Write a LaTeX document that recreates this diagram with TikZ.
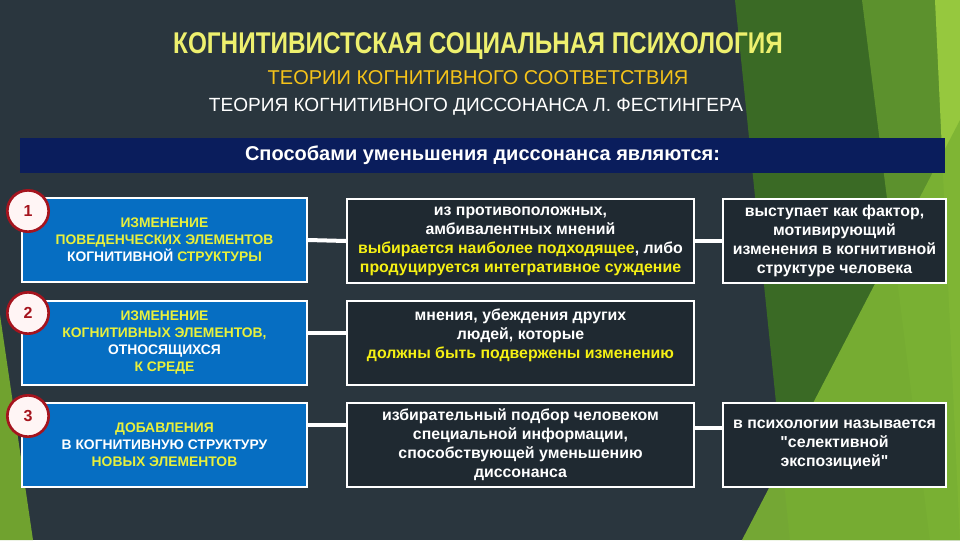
\documentclass[tikz,border=0pt]{standalone}
\usepackage{fontspec}
\usepackage{graphicx}
\setmainfont{Liberation Sans}[Ligatures=TeXOff]
\definecolor{slate}{RGB}{42,54,62}
\definecolor{navy}{RGB}{10,29,92}
\definecolor{boxblue}{RGB}{6,110,194}
\definecolor{boxdark}{RGB}{31,41,49}
\definecolor{lemon}{RGB}{232,240,60}
\definecolor{brightyellow}{RGB}{245,240,20}
\definecolor{titleyellow}{RGB}{238,240,110}
\definecolor{gold}{RGB}{245,195,25}
\definecolor{numred}{RGB}{165,20,30}
\definecolor{leafdark}{RGB}{58,106,37}
\definecolor{leafmid}{RGB}{92,145,45}
\definecolor{leaflight}{RGB}{125,180,52}
\definecolor{leafpale}{RGB}{150,200,62}
\begin{document}
\begin{tikzpicture}[x=0.75pt, y=-0.75pt]
 \tikzstyle{bluebox}=[rectangle, draw=white, line width=1.5pt, fill=boxblue, text=white, align=center, minimum width=213.75pt, minimum height=63pt, inner sep=0pt, font=\fontsize{10.4}{12.75}\selectfont\bfseries]
 \tikzstyle{darkbox}=[rectangle, draw=white, line width=1.5pt, fill=boxdark, text=white, align=center, minimum width=260.25pt, minimum height=63pt, inner sep=0pt, font=\fontsize{11.9}{14.25}\selectfont\bfseries]
 \tikzstyle{sidebox}=[darkbox, minimum width=167.25pt]
 \tikzstyle{numdisc}=[circle, draw=numred, line width=2pt, fill=white!96!red, text=numred, minimum size=31pt, inner sep=0pt, font=\fontsize{12}{12}\selectfont\bfseries]
 \tikzstyle{link}=[draw=white, line width=3pt]
 %
 \fill[slate] (0,0) rectangle (960,540);
 \fill[leafdark] (735,0) -- (960,0) -- (960,540) -- (790,540) -- cycle;
 \fill[leafmid] (862,0) -- (960,0) -- (960,540) -- (930,540) -- cycle;
 \fill[leafpale] (935,0) -- (960,0) -- (960,540) -- cycle;
 \fill[leaflight, opacity=0.9] (742,540) -- (960,120) -- (960,540) -- cycle;
 \fill[leaflight!90!black] (0,315) -- (33,540) -- (0,540) -- cycle;
 %
 \node[text=titleyellow, font=\fontsize{22.5}{22.5}\selectfont\bfseries] (title) at (478,46) {\scalebox{0.81}[1]{КОГНИТИВИСТСКАЯ СОЦИАЛЬНАЯ ПСИХОЛОГИЯ}};
 \node[text=gold, font=\fontsize{15}{15}\selectfont] (theories) at (478,78) {ТЕОРИИ КОГНИТИВНОГО СООТВЕТСТВИЯ};
 \node[text=white, font=\fontsize{14.3}{14.3}\selectfont] (festinger) at (476,107) {ТЕОРИЯ КОГНИТИВНОГО ДИССОНАНСА Л. ФЕСТИНГЕРА};
 \node[rectangle, fill=navy, minimum width=693.75pt, minimum height=26.25pt, inner sep=0pt, text=white, font=\fontsize{15}{15}\selectfont\bfseries] (ways) at (482.5,155) {Способами уменьшения диссонанса являются:};
 %
 \node[bluebox] (B1) at (164.5,240) {{\color{lemon}ИЗМЕНЕНИЕ}\\{\color{lemon}ПОВЕДЕНЧЕСКИХ ЭЛЕМЕНТОВ}\\КОГНИТИВНОЙ {\color{lemon}СТРУКТУРЫ}};
 \node[bluebox] (B2) at (164.5,343) {{\color{lemon}ИЗМЕНЕНИЕ}\\{\color{lemon}КОГНИТИВНЫХ ЭЛЕМЕНТОВ,}\\ОТНОСЯЩИХСЯ\\{\color{lemon}К СРЕДЕ}};
 \node[bluebox] (B3) at (164.5,445) {{\color{lemon}ДОБАВЛЕНИЯ}\\В КОГНИТИВНУЮ СТРУКТУРУ\\{\color{lemon}НОВЫХ ЭЛЕМЕНТОВ}};
 %
 \node[darkbox] (M1) at (520.5,241) {из противоположных,\\амбивалентных мнений\\{\color{brightyellow}выбирается наиболее подходящее}, либо\\{\color{brightyellow}продуцируется интегративное суждение}};
 \node[darkbox] (M2) at (520.5,343) {мнения, убеждения других\\людей, которые\\{\color{brightyellow}должны быть подвержены изменению}\\ \mbox{}};
 \node[darkbox] (M3) at (520.5,445) {избирательный подбор человеком\\специальной информации,\\способствующей уменьшению\\диссонанса};
 %
 \node[sidebox] (R1) at (834.5,241) {выступает как фактор,\\мотивирующий\\изменения в когнитивной\\структуре человека};
 \node[sidebox] (R3) at (834.5,445) {в психологии называется\\"селективной\\экспозицией"};
 %
 \node[numdisc] (N1) at (28,211) {1};
 \node[numdisc] (N2) at (28,313) {2};
 \node[numdisc] (N3) at (28,416) {3};
 %%
 \draw[link] (B1.east) -- (M1.west);
 \draw[link] ([yshift=7.5pt]B2.east) -- ([yshift=7.5pt]M2.west);
 \draw[link] ([yshift=15pt]B3.east) -- ([yshift=15pt]M3.west);
 \draw[link] (M1.east) -- (R1.west);
 \draw[link] ([yshift=12.75pt]M3.east) -- ([yshift=12.75pt]R3.west);
\end{tikzpicture}
\end{document}
